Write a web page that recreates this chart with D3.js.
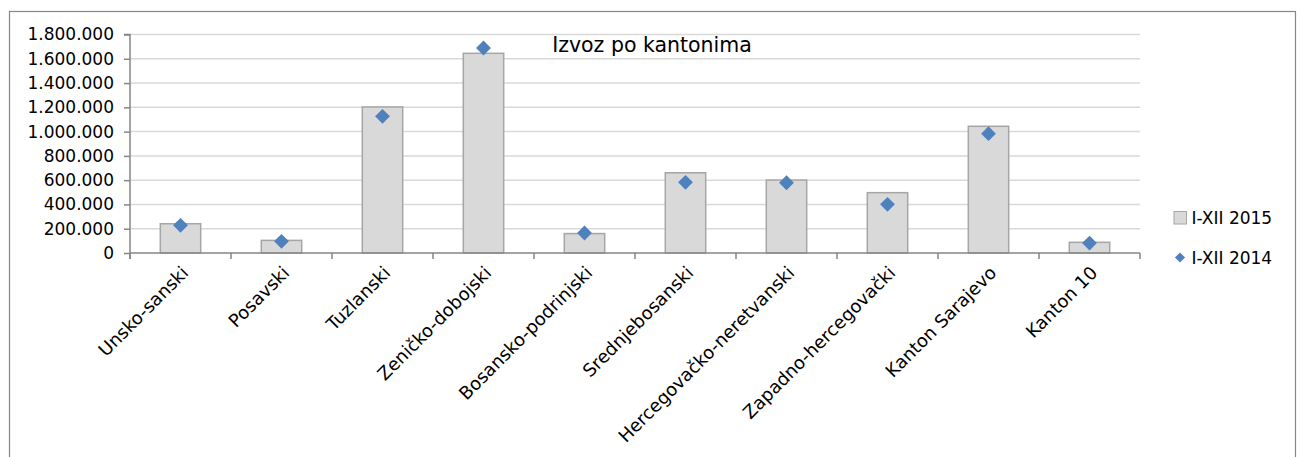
<!DOCTYPE html>
<html>
<head>
<meta charset="utf-8">
<script src="https://cdn.jsdelivr.net/npm/d3@7"></script>
<style>
body{margin:0;background:#fff;}
svg text{font-family:"DejaVu Sans",sans-serif;fill:#000;}
</style>
</head>
<body>
<svg id="chart" width="1300" height="457"></svg>
<script>
// data
let kantoni = ["Unsko-sanski","Posavski","Tuzlanski","Zeničko-dobojski","Bosansko-podrinjski","Srednjebosanski","Hercegovačko-neretvanski","Zapadno-hercegovački","Kanton Sarajevo","Kanton 10"]
let izvoz2015 = [241000,104000,1203000,1645000,160000,661000,601000,497000,1044000,88000]
let izvoz2014 = [228000,96000,1126000,1689000,165000,582000,579000,401000,983000,82000]
let yTicks = [0,200000,400000,600000,800000,1000000,1200000,1400000,1600000,1800000]
let serije = ["I-XII 2015","I-XII 2014"]

var svg = d3.select("#chart")

// outer frame
svg.append("rect").attr("x",9.5).attr("y",11.5).attr("width",1286).attr("height",470)
  .attr("fill","none").attr("stroke","#868686").attr("stroke-width",1.2)

var x = d3.scaleBand().domain(kantoni).range([130,1140]).paddingInner(0.6).paddingOuter(0.3)
var y = d3.scaleLinear().domain([0,1800000]).range([253,34.5])

// gridlines
svg.selectAll(".grid").data(yTicks.slice(1)).enter().append("line")
  .attr("x1",130).attr("x2",1140).attr("y1",d=>y(d)).attr("y2",d=>y(d))
  .attr("stroke","#d9d9d9").attr("stroke-width",1.5)

// bars 2015
svg.selectAll(".bar").data(izvoz2015).enter().append("rect")
  .attr("x",(d,i)=>x(kantoni[i])).attr("y",d=>y(d))
  .attr("width",x.bandwidth()).attr("height",d=>y(0)-y(d))
  .attr("fill","#d9d9d9").attr("stroke","#a6a6a6").attr("stroke-width",1.5)

// y axis
var yAxis = d3.axisLeft(y).tickValues(yTicks).tickSize(6).tickPadding(10)
  .tickFormat(d=>d3.format(",")(d).replace(/,/g,"."))
var gy = svg.append("g").attr("transform","translate(130,0)").call(yAxis)
gy.select(".domain").attr("stroke","#868686").attr("stroke-width",1.5).attr("d","M-6,34.5H0V259")
gy.selectAll(".tick line").attr("stroke","#868686").attr("stroke-width",1.5)
gy.selectAll(".tick text").style("font-size","17px").attr("font-family","DejaVu Sans").attr("fill","#000")

// x axis line and ticks at category boundaries
var step = x.step()
svg.append("line").attr("x1",130).attr("x2",1140).attr("y1",253).attr("y2",253)
  .attr("stroke","#868686").attr("stroke-width",1.5)
svg.selectAll(".xtick").data(d3.range(kantoni.length+1)).enter().append("line")
  .attr("x1",d=>130+d*step).attr("x2",d=>130+d*step).attr("y1",253).attr("y2",259)
  .attr("stroke","#868686").attr("stroke-width",1.5)

// category labels
svg.selectAll(".xlab").data(kantoni).enter().append("text")
  .text(d=>d)
  .attr("transform",d=>`translate(${x(d)+x.bandwidth()/2+9},274) rotate(-45)`)
  .attr("text-anchor","end").style("font-size","18px")

// diamonds 2014
var diamond = d3.symbol().type(d3.symbolDiamond2)
svg.selectAll(".dot").data(izvoz2014).enter().append("path")
  .attr("d",diamond.size(140))
  .attr("transform",(d,i)=>`translate(${x(kantoni[i])+x.bandwidth()/2},${y(d)})`)
  .attr("fill","#4f81bd")

// title
svg.append("text").text("Izvoz po kantonima").attr("x",652).attr("y",52)
  .attr("text-anchor","middle").style("font-size","20.5px")

// legend
svg.append("rect").attr("x",1174).attr("y",211.5).attr("width",12.5).attr("height",12.5)
  .attr("fill","#d9d9d9").attr("stroke","#a6a6a6").attr("stroke-width",1)
svg.append("text").text(serije[0]).attr("x",1191.5).attr("y",224).style("font-size","17px")
svg.append("path").attr("d",diamond.size(65)).attr("transform","translate(1180,257.5)").attr("fill","#4f81bd")
svg.append("text").text(serije[1]).attr("x",1191.5).attr("y",263.5).style("font-size","17px")
</script>
</body>
</html>
